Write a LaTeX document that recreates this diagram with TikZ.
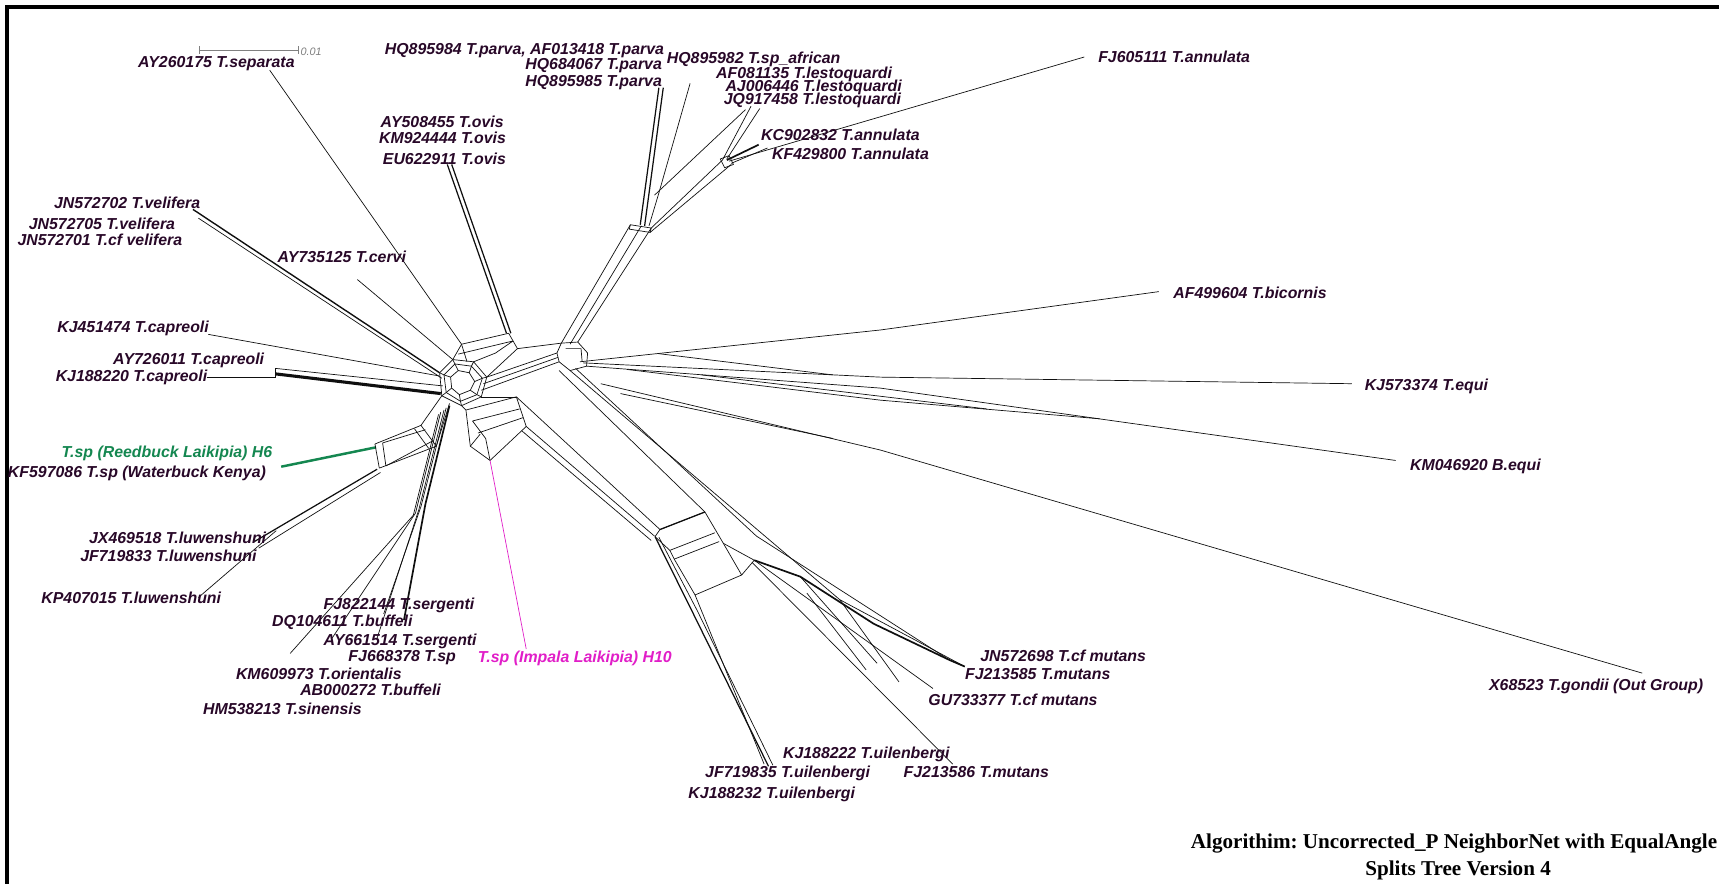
\documentclass[tikz,border=0pt]{standalone}
\usepackage{fontspec}
\newfontfamily\lblfont{Liberation Sans}
\newfontfamily\ttlfont{Liberation Serif}
\definecolor{txt}{RGB}{40,8,40}
\definecolor{grn}{RGB}{20,135,80}
\definecolor{mag}{RGB}{225,30,200}
\definecolor{netc}{RGB}{15,15,15}
\begin{document}
\begin{tikzpicture}[x=0.25mm,y=-0.25mm,
  lbl/.style={font=\lblfont\bfseries\itshape\fontsize{10.3}{12}\selectfont, text=txt, inner sep=0pt, anchor=west},
  lble/.style={lbl, anchor=east},
  net/.style={draw=netc, line width=0.45pt, line join=round},
  netk/.style={draw=netc, line width=1.1pt, line join=round},
  ttl/.style={font=\ttlfont\bfseries\fontsize{13.7}{15}\selectfont\frenchspacing, text=black, inner sep=0pt}]
\useasboundingbox (0,0) rectangle (1568,806);
\fill[white] (0,0) rectangle (1568,806);
\draw[line width=0.75mm] (6.5,806) -- (6.5,6.5) -- (1568,6.5);

% scale bar
\draw[gray, line width=0.5pt] (181.5,45.6) -- (272,45.6) (181.5,42) -- (181.5,49) (272,42) -- (272,49);
\node[font=\lblfont\itshape\fontsize{7}{8}\selectfont, text=gray, anchor=west, inner sep=0pt] (scl) at (274,47.5) {0.01};

% ---------- hub core ----------
\draw[net] (405,342)--(415,332)--(430,334)--(440,345)--(435,360)--(420,366)--(407,358)--cycle;
\draw[net] (411,344)--(418,338)--(428,340)--(433,348)--(429,356)--(419,360)--(412,354)--cycle;
\draw[net] (401,340)--(413,328)--(432,330)--(444,344)--(439,362)--(421,370)--(403,361)--cycle;
\draw[net] (405,342)--(411,344) (415,332)--(418,338) (430,334)--(428,340) (440,345)--(433,348)
  (435,360)--(429,356) (420,366)--(419,360) (407,358)--(412,354)
  (401,340)--(405,342) (413,328)--(415,332) (432,330)--(430,334) (444,344)--(440,345)
  (439,362)--(435,360) (421,370)--(420,366) (403,361)--(407,358);
% ovis box
\draw[net] (413,328)--(421,314)--(464,304)--(472,318)--(444,344);
\draw[net] (418,323)--(468,311) (432,330)--(452,322)--(468,311) (421,314)--(426,330);
% separata, cervi
\draw[net] (246,64)--(421,314);
\draw[net] (326,255)--(413,328);
% ovis
\draw[net, line width=0.8pt] (408,150)--(462,304);
\draw[net, line width=0.8pt] (412,150)--(466,304);
% velifera
\draw[net, line width=0.9pt] (176,191)--(401,340);
\draw[net] (181,199)--(403,345);
% capreoli
\draw[net] (190,305)--(401,343);
\draw[net] (251,336)--(404,352);
\draw[net, line width=2pt] (251,341)--(402,359);
\draw[net] (188.5,344.5)--(251,344.5) (251,336)--(251,344.5);
% reedbuck + luwenshuni
\draw[grn, line width=1.6pt] (256.5,425.7)--(343,408);
\draw[net] (342,405)--(346,427) (349,404)--(352,425);
\draw[net] (342,405)--(384,388)--(403,361);
\draw[net] (346,427)--(398,407)--(410,368);
\draw[net] (352,425)--(395,402) (349,404)--(388,392);
\draw[net] (384,388)--(398,407) (378,391)--(391,409);
\draw[net, line width=0.8pt] (344,428)--(232,494);
\draw[net] (347,431)--(236,500);
\draw[net] (252,484)--(181,545);
% sergenti fan
\draw[netk] (410,370)--(388,460)--(368.5,565.5);
\draw[net] (407,372)--(384,462)--(350,560);
\draw[net] (405,374)--(382,465)--(344,582);
\draw[net] (402,376)--(379,468)--(303,582);
\draw[net] (400,378)--(377,470)--(264.7,596);
% pink box
\draw[net] (421,370)--(425,374)--(471,362)--(480,389)--(447,420)--(429,407)--(425,374);
\draw[net] (431,384)--(474,373) (436,395)--(477,381) (429,407)--(438,396) (447,420)--(443,400)--(431,384);
\draw[net] (439,362)--(471,362);
\draw[mag, line width=0.45pt] (447,420)--(480,592);

% ---------- right junction ----------
\draw[net] (444,344)--(508,322);
\draw[net] (441,350)--(509,326);
\draw[net] (439,356)--(510,330);
\draw[net] (472,318)--(512,313);
\draw[net] (508,322)--(512,313)--(527,312)--(536,322)--(535,334)--(520,338)--(510,330)--cycle;
\draw[net] (516,318)--(530,318)--(531,330);
% trunk to parva box
\draw[net] (512,313)--(575,205);
\draw[net] (527,312)--(594,208);
\draw[net] (520,314)--(585,206);
\draw[net] (575,205)--(594,208)--(593,212)--(574,209)--cycle;
% parva
\draw[net, line width=0.8pt] (584,205)--(601,80);
\draw[net, line width=0.8pt] (588,206)--(605,80);
\draw[net] (592,206)--(601,176)--(629.5,76);
\draw[net] (680,100)--(597,178);
% lestoquardi / annulata
\draw[net] (594,208)--(659,146);
\draw[net] (593,212)--(667,150);
\draw[net] (657,145)--(665,142)--(669,150)--(661,153)--cycle;
\draw[net] (659,146)--(685,97);
\draw[net] (663,145)--(693,99);
\draw[netk] (663,146)--(692,132);
\draw[net] (667,149)--(700,135);
\draw[net] (989,52)--(665,147);

% ---------- right bundle ----------
\draw[net] (529,330)--(803,301)--(1057,266);
\draw[net] (532,331)--(803,344)--(1233,350);
\draw[net] (535,334)--(803,354)--(1273,420);
\draw[net] (572,337)--(803,365)--(1003,382);
\draw[net] (548,350)--(803,410.5)--(1498,614);
\draw[net] (566,359)--(760,400);
\draw[net] (600,322.5)--(760,342) (640,342)--(900,373);

% ---------- lower band ----------
\draw[net] (480,389)--(597,489);
\draw[net] (476,393)--(594,493);
\draw[net] (471,362)--(602,483);
\draw[net] (510,338)--(643,467);
\draw[net] (520,338)--(766,547)--(880,608);
\draw[net] (525,336)--(690,489)--(866,602);
% box
\draw[net] (597.5,489.5)--(602,483)--(643,467)--(659.8,495.6)--(676.5,524.5)--(634,542.7)--(615,510)--(611,502)--cycle;
\draw[net] (611,502)--(652,486) (615,510)--(656,494);
\draw[net, line width=0.8pt] (602,483)--(643,467);
% uilenbergi
\draw[net, line width=0.8pt] (597.5,489.5)--(632,559)--(701,699);
\draw[net] (601,490)--(636,557)--(705,698);
\draw[net] (634,542.7)--(697,697);
% mutans
\draw[net] (659.8,495.6)--(688,511) (676.5,524.5)--(688,511);
\draw[netk] (688,511)--(730,526)--(797,569)--(866,602)--(880,608);
\draw[net] (688,511)--(851,628);
\draw[net] (686,513)--(869,697);
\draw[net] (730,526)--(800,605) (766,547)--(820,622) (736,541)--(790,611);

% ---------- labels ----------
\node[lbl] (l1) at (125.7,57.8) {AY260175 T.separata};
\node[lble] (l2) at (606,46) {HQ895984 T.parva, AF013418 T.parva};
\node[lble] (l3) at (604,59.5) {HQ684067 T.parva};
\node[lble] (l4) at (604,75) {HQ895985 T.parva};
\node[lbl] (l5) at (608,54) {HQ895982 T.sp\_african};
\node[lbl] (l6) at (653,68) {AF081135 T.lestoquardi};
\node[lbl] (l7) at (661.5,80) {AJ006446 T.lestoquardi};
\node[lbl] (l8) at (660,91.5) {JQ917458 T.lestoquardi};
\node[lbl] (l9) at (1001.5,52) {FJ605111 T.annulata};
\node[lbl] (l10) at (694,123) {KC902832 T.annulata};
\node[lbl] (l11) at (704,140) {KF429800 T.annulata};
\node[lbl] (l12) at (347,111) {AY508455 T.ovis};
\node[lbl] (l13) at (345.5,126) {KM924444 T.ovis};
\node[lbl] (l14) at (349,145) {EU622911 T.ovis};
\node[lbl] (l15) at (49,184.6) {JN572702 T.velifera};
\node[lbl] (l16) at (26,204.6) {JN572705 T.velifera};
\node[lbl] (l17) at (15.7,219) {JN572701 T.cf velifera};
\node[lbl] (l18) at (253,234.7) {AY735125 T.cervi};
\node[lbl] (l19) at (1070,267) {AF499604 T.bicornis};
\node[lbl] (l20) at (52,299.5) {KJ451474 T.capreoli};
\node[lbl] (l21) at (103,328.3) {AY726011 T.capreoli};
\node[lbl] (l22) at (50.6,344.5) {KJ188220 T.capreoli};
\node[lbl] (l23) at (1244.6,352.7) {KJ573374 T.equi};
\node[lbl, text=grn] (l24) at (56,414) {T.sp (Reedbuck Laikipia) H6};
\node[lbl] (l25) at (7,431.7) {KF597086 T.sp (Waterbuck Kenya)};
\node[lbl] (l26) at (1286,425.7) {KM046920 B.equi};
\node[lbl] (l27) at (81,491) {JX469518 T.luwenshuni};
\node[lbl] (l28) at (73,507) {JF719833 T.luwenshuni};
\node[lbl] (l29) at (37.5,545.7) {KP407015 T.luwenshuni};
\node[lbl] (l30) at (295,551.9) {FJ822144 T.sergenti};
\node[lbl] (l31) at (248,568) {DQ104611 T.buffeli};
\node[lbl] (l32) at (295,584.7) {AY661514 T.sergenti};
\node[lbl] (l33) at (317.6,599.9) {FJ668378 T.sp};
\node[lbl, text=mag] (l34) at (435.7,600.5) {T.sp (Impala Laikipia) H10};
\node[lbl] (l35) at (215,614.8) {KM609973 T.orientalis};
\node[lbl] (l36) at (273.6,629.4) {AB000272 T.buffeli};
\node[lbl] (l37) at (185,647) {HM538213 T.sinensis};
\node[lbl] (l38) at (894,598.4) {JN572698 T.cf mutans};
\node[lbl] (l39) at (880,614.8) {FJ213585 T.mutans};
\node[lbl] (l40) at (846.6,638.5) {GU733377 T.cf mutans};
\node[lbl] (l41) at (1358,626.4) {X68523 T.gondii (Out Group)};
\node[lbl] (l42) at (714,687.8) {KJ188222 T.uilenbergi};
\node[lbl] (l43) at (824,704) {FJ213586 T.mutans};
\node[lbl] (l44) at (643,705) {JF719835 T.uilenbergi};
\node[lbl] (l45) at (627.7,725) {KJ188232 T.uilenbergi};
\node[ttl, anchor=west] (t1) at (1086,769) {Algorithim: Uncorrected\_P NeighborNet with EqualAngle};
\node[ttl] (t2) at (1330,793.6) {Splits Tree Version 4};
\end{tikzpicture}
\end{document}
